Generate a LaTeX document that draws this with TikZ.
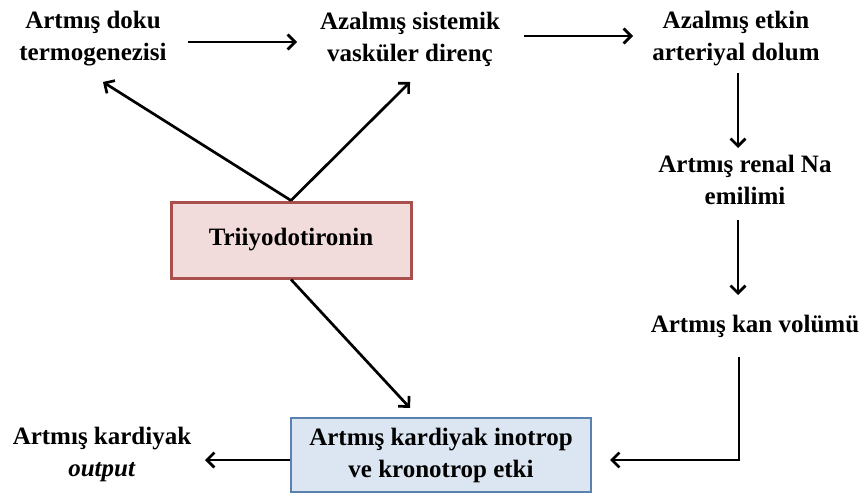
\documentclass[tikz,border=0pt]{standalone}
\usepackage{fontspec}
\setmainfont{Liberation Serif}
\usetikzlibrary{arrows.meta}
\definecolor{pinkfill}{HTML}{F2DCDB}
\definecolor{pinkdraw}{HTML}{A9504E}
\definecolor{bluefill}{HTML}{DCE6F2}
\definecolor{bluedraw}{HTML}{5B82AE}
\tikzset{
  txt/.style={align=center, font=\fontsize{25}{32}\selectfont\bfseries, inner sep=0pt},
  pinkbox/.style={txt, draw=pinkdraw, fill=pinkfill, line width=3pt, minimum width=240pt, minimum height=76pt},
  bluebox/.style={txt, draw=bluedraw, fill=bluefill, line width=2.4pt, minimum width=300pt, minimum height=74pt},
  arr/.style={line width=2.7pt, -{Straight Barb[length=7.5pt,width=15pt,line width=2.7pt]}}
}
\begin{document}
\begin{tikzpicture}[x=1pt,y=-1pt]
\useasboundingbox (0,0) rectangle (864,495);
\node[txt] (n1) at (93,39) {Artmış doku\\termogenezisi};
\node[txt] (n2) at (410,39) {Azalmış sistemik\\vasküler direnç};
\node[txt] (n3) at (736,39) {Azalmış etkin\\arteriyal dolum};
\node[txt] (n4) at (745,180) {Artmış renal Na\\emilimi};
\node[txt] (n5) at (755,326) {Artmış kan volümü};
\node[pinkbox] (T) at (291,240) {Triiyodotironin};
\node[bluebox] (B) at (441,455) {Artmış kardiyak inotrop\\ve kronotrop etki};
\node[txt] (O) at (102,454) {Artmış kardiyak\\\textit{output}};
% connector end points
\coordinate (a1s) at (188,42); \coordinate (a1e) at (297,42);
\coordinate (a2s) at (524,36); \coordinate (a2e) at (633,36);
\coordinate (t1) at (103,82); \coordinate (t2) at (410,82);
\coordinate (tb) at (410,408);
\coordinate (v1s) at (738,73); \coordinate (v1e) at (738,148);
\coordinate (v2s) at (738,220); \coordinate (v2e) at (738,295);
\coordinate (v3s) at (739,357); \coordinate (v3c) at (739,460); \coordinate (v3e) at (610,460);
\coordinate (oe) at (205,460);
\draw[arr] (a1s) -- (a1e);
\draw[arr] (a2s) -- (a2e);
\draw[arr] (T.north) -- (t1);
\draw[arr] (T.north) -- (t2);
\draw[arr] (T.south) -- (tb);
\draw[arr] (v1s) -- (v1e);
\draw[arr] (v2s) -- (v2e);
\draw[arr] (v3s) -- (v3c) -- (v3e);
\draw[arr] (B.west |- oe) -- (oe);
\end{tikzpicture}
\end{document}
